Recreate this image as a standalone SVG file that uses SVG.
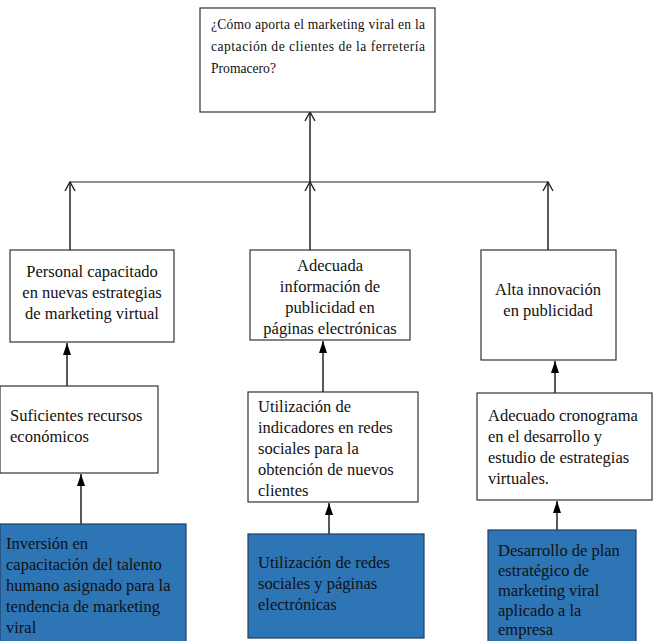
<svg xmlns="http://www.w3.org/2000/svg" width="654" height="641" viewBox="0 0 654 641">
<defs>
<marker id="open" viewBox="0 0 12 12" refX="11" refY="6" markerWidth="12" markerHeight="12" markerUnits="userSpaceOnUse" orient="auto">
<path d="M2,1 L11,6 L2,11" fill="none" stroke="#222" stroke-width="1.4"/>
</marker>
<marker id="solid" viewBox="0 0 12 10" refX="12" refY="5" markerWidth="12" markerHeight="10" markerUnits="userSpaceOnUse" orient="auto">
<path d="M0,1 L12,5 L0,9 Z" fill="#000"/>
</marker>
</defs>
<style>
.box{fill:#fff;stroke:#333;stroke-width:1.2}
.blue{fill:#2E75B6;stroke:#1F3F66;stroke-width:1.2}
.t{font-family:"Liberation Serif","DejaVu Serif",serif;font-size:16.5px;fill:#111}
.c{text-anchor:middle}
.q{font-size:13.6px}
.ln{stroke:#222;stroke-width:1.5;fill:none}
.ln2{stroke:#222;stroke-width:1.2;fill:none}
</style>
<g id="connectors">
<line class="ln" x1="310" y1="182" x2="310" y2="112" marker-end="url(#open)"/>
<line class="ln2" x1="70" y1="182" x2="548" y2="182"/>
<line class="ln" x1="70" y1="250" x2="70" y2="182" marker-end="url(#open)"/>
<line class="ln" x1="310" y1="250" x2="310" y2="182" marker-end="url(#open)"/>
<line class="ln" x1="548" y1="250" x2="548" y2="182" marker-end="url(#open)"/>
<line class="ln" x1="67" y1="386" x2="67" y2="343" marker-end="url(#solid)"/>
<line class="ln" x1="323" y1="392" x2="323" y2="341" marker-end="url(#solid)"/>
<line class="ln" x1="555" y1="393" x2="555" y2="361" marker-end="url(#solid)"/>
<line class="ln" x1="81" y1="524" x2="81" y2="474" marker-end="url(#solid)"/>
<line class="ln" x1="329" y1="534" x2="329" y2="503" marker-end="url(#solid)"/>
<line class="ln" x1="557" y1="530" x2="557" y2="501" marker-end="url(#solid)"/>
</g>
<g class="t">
<g id="top">
<rect class="box" x="200" y="8" width="235" height="104"/>
<text class="q" x="211" y="29" textLength="214" lengthAdjust="spacing">¿Cómo aporta el marketing viral en la</text>
<text class="q" x="211" y="51" textLength="214" lengthAdjust="spacing">captación de clientes de la ferretería</text>
<text class="q" x="211" y="73">Promacero?</text>
</g>
<g id="n1">
<rect class="box" x="10" y="250" width="164" height="92"/>
<text class="c" x="92" y="277">Personal capacitado</text>
<text class="c" x="92" y="298">en nuevas estrategias</text>
<text class="c" x="92" y="319">de marketing virtual</text>
</g>
<g id="n2">
<rect class="box" x="250" y="250" width="160" height="90"/>
<text class="c" x="330" y="271">Adecuada</text>
<text class="c" x="330" y="292">información de</text>
<text class="c" x="330" y="313">publicidad en</text>
<text class="c" x="330" y="334">páginas electrónicas</text>
</g>
<g id="n3">
<rect class="box" x="481" y="250" width="135" height="110"/>
<text class="c" x="548" y="295">Alta innovación</text>
<text class="c" x="548" y="316">en publicidad</text>
</g>
<g id="n4">
<rect class="box" x="0" y="386" width="158" height="87"/>
<text x="10" y="421">Suficientes recursos</text>
<text x="10" y="442">económicos</text>
</g>
<g id="n5">
<rect class="box" x="248" y="392" width="170" height="110"/>
<text x="258" y="412">Utilización de</text>
<text x="258" y="433">indicadores en redes</text>
<text x="258" y="454">sociales para la</text>
<text x="258" y="475">obtención de nuevos</text>
<text x="258" y="496">clientes</text>
</g>
<g id="n6">
<rect class="box" x="477" y="393" width="175" height="107"/>
<text x="488" y="421">Adecuado cronograma</text>
<text x="488" y="442">en el desarrollo y</text>
<text x="488" y="463">estudio de estrategias</text>
<text x="488" y="484">virtuales.</text>
</g>
<g id="n7">
<rect class="blue" x="0" y="524" width="186" height="120"/>
<text x="6" y="549">Inversión en</text>
<text x="6" y="570">capacitación del talento</text>
<text x="6" y="591">humano asignado para la</text>
<text x="6" y="612">tendencia de marketing</text>
<text x="6" y="633">viral</text>
</g>
<g id="n8">
<rect class="blue" x="248" y="534" width="176" height="104"/>
<text x="258" y="568">Utilización de redes</text>
<text x="258" y="589">sociales y páginas</text>
<text x="258" y="610">electrónicas</text>
</g>
<g id="n9">
<rect class="blue" x="488" y="530" width="148" height="114"/>
<text x="498" y="556">Desarrollo de plan</text>
<text x="498" y="576">estratégico de</text>
<text x="498" y="596">marketing viral</text>
<text x="498" y="616">aplicado a la</text>
<text x="498" y="635">empresa</text>
</g>
</g>
</svg>
